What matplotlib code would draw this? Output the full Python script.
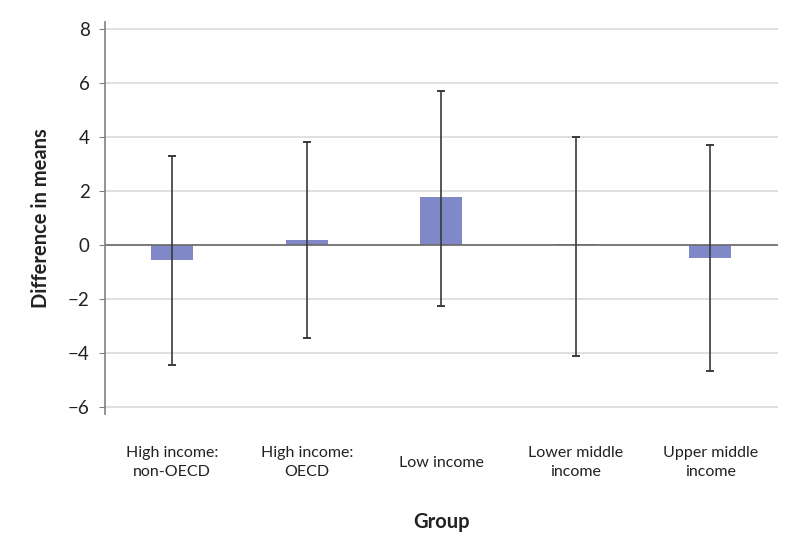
import matplotlib.pyplot as plt
import numpy as np

plt.rcParams['font.family'] = ['Lato', 'DejaVu Sans']

# chart data
groups = ["High income:\nnon-OECD", "High income:\nOECD", "Low income",
          "Lower middle\nincome", "Upper middle\nincome"]
diff_means = [-0.55, 0.18, 1.76, 0.02, -0.47]
ci_low = [-4.45, -3.45, -2.25, -4.1, -4.65]
ci_high = [3.3, 3.8, 5.7, 4.0, 3.7]

x = np.arange(len(groups))
err_lo = np.array(diff_means) - np.array(ci_low)
err_hi = np.array(ci_high) - np.array(diff_means)

fig = plt.figure(figsize=(8.1, 5.48), dpi=100)
ax = fig.add_axes([0.1296, 0.2445, 0.8304, 0.7155])

ax.bar(x, diff_means, width=0.31, color="#8088c8", zorder=2)
ax.errorbar(x, diff_means, yerr=[err_lo, err_hi], fmt="none", ecolor="#3a3a3a",
            elinewidth=1.2, capsize=3, capthick=1.4, zorder=3)
ax.axhline(0, color="#6a6a6a", linewidth=1.2, zorder=2.5)

ax.set_xlim(-0.5, len(groups) - 0.5)
ax.set_ylim(-6.25, 8.25)
ax.set_yticks(np.arange(-6, 9, 2))
ax.set_yticklabels([str(v).replace("-", "\u2212") for v in range(-6, 9, 2)])
ax.yaxis.grid(True, color="#d9d9d9", linewidth=1.2, zorder=0)
ax.set_axisbelow(True)

ax.set_xticks(x)
ax.set_xticklabels(groups, fontsize=11.5, color="#222222", va="center", linespacing=1.4)
ax.tick_params(axis="x", length=0, pad=35)
ax.tick_params(axis="y", length=4, color="#808080", labelsize=13.5, labelcolor="#222222", pad=7)

for s in ["top", "right", "bottom"]:
    ax.spines[s].set_visible(False)
ax.spines["left"].set_color("#808080")
ax.spines["left"].set_linewidth(1.2)

ax.set_ylabel("Difference in means", fontsize=14.5, fontweight="bold", color="#222222", labelpad=12)
ax.set_xlabel("Group", fontsize=14.5, fontweight="bold", color="#222222", labelpad=24)

fig.savefig("out.png", dpi=100)
